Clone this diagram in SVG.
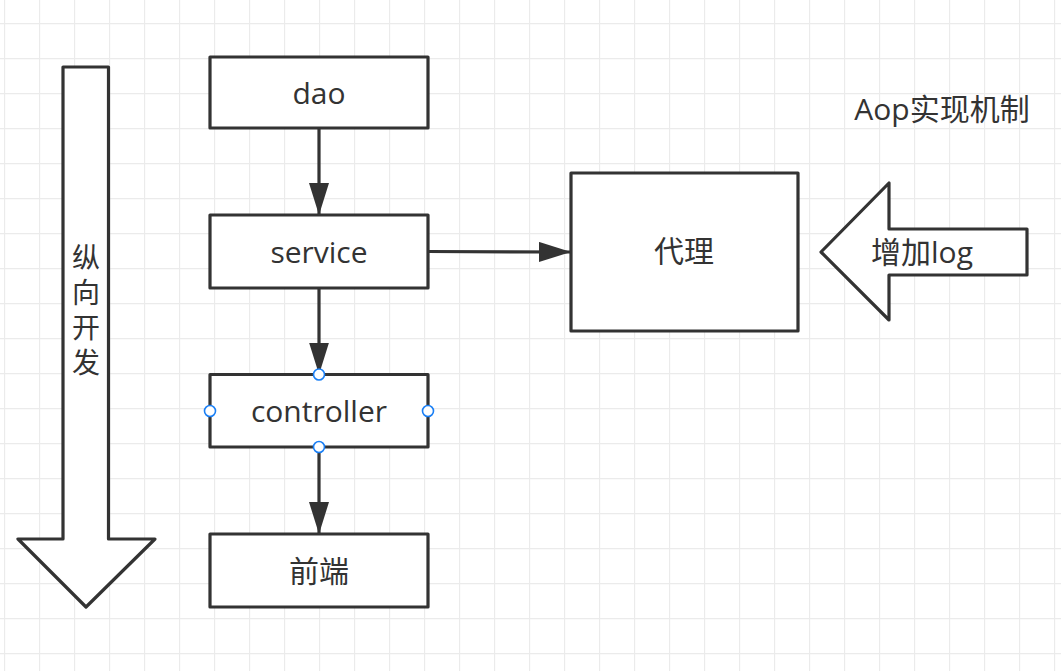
<svg xmlns="http://www.w3.org/2000/svg" width="1061" height="671" viewBox="0 0 1061 671">
<style>
.box{fill:#fff;stroke:#333;stroke-width:3.2;stroke-linejoin:round}
.shape{fill:#fff;stroke:#333;stroke-width:3.2;stroke-linejoin:round}
.lbl{font-family:"Open Sans","Noto Sans CJK SC",sans-serif;font-size:30px;fill:#333;text-anchor:middle}
.vlbl{font-family:"Noto Sans CJK SC",sans-serif;font-size:28px;fill:#333;writing-mode:vertical-rl;letter-spacing:7px}
.edge{stroke:#333;stroke-width:3.2;fill:none}
.pt{fill:#fff;stroke:#1a7ff5;stroke-width:1.6}
</style>
<defs>
<pattern id="grid" x="4" y="23" width="35" height="35" patternUnits="userSpaceOnUse">
<path d="M0.5 0V35M0 0.5H35" stroke="#ebebeb" stroke-width="1.3" fill="none"/>
</pattern>
<marker id="arr" viewBox="0 0 32 20" refX="32" refY="10" markerWidth="32" markerHeight="20" markerUnits="userSpaceOnUse" orient="auto">
<path d="M0 0L32 10L0 20Z" fill="#333"/>
</marker>
</defs>
<rect width="1061" height="671" fill="#fff"/>
<rect width="1061" height="671" fill="url(#grid)"/>

<g id="vertical-arrow">
<path class="shape" d="M63 67H108.5V539H155L86 607L18 539H63Z"/>
<text class="vlbl" x="86" y="243.5">纵向开发</text>
</g>

<g id="dao">
<rect class="box" x="210" y="57" width="218" height="71"/>
<text class="lbl" x="319" y="104">dao</text>
</g>
<g id="service">
<rect class="box" x="210" y="215" width="218" height="73"/>
<text class="lbl" x="319" y="263">service</text>
</g>
<g id="controller">
<rect class="box" x="210" y="374.5" width="218" height="72.5"/>
<text class="lbl" x="319" y="422">controller</text>
</g>
<g id="frontend">
<rect class="box" x="210" y="534" width="218" height="73"/>
<text class="lbl" x="319" y="582">前端</text>
</g>
<g id="proxy">
<rect class="box" x="571" y="173" width="227" height="158"/>
<text class="lbl" x="684" y="262">代理</text>
</g>
<g id="add-log">
<path class="shape" d="M821 252L889 183V229H1027V275H889V320Z"/>
<text class="lbl" x="922" y="263">增加log</text>
</g>
<g id="title">
<text class="lbl" x="942" y="120">Aop实现机制</text>
</g>

<g id="connectors">
<path class="edge" d="M319 128V215" marker-end="url(#arr)"/>
<path class="edge" d="M319 288V374.5" marker-end="url(#arr)"/>
<path class="edge" d="M319 447V534" marker-end="url(#arr)"/>
<path class="edge" d="M428 251.5L571 252" marker-end="url(#arr)"/>
</g>

<g id="controller-handles">
<circle class="pt" cx="319" cy="374.5" r="5.5"/>
<circle class="pt" cx="210" cy="411" r="5.5"/>
<circle class="pt" cx="428" cy="411" r="5.5"/>
<circle class="pt" cx="319" cy="447" r="5.5"/>
</g>
</svg>
